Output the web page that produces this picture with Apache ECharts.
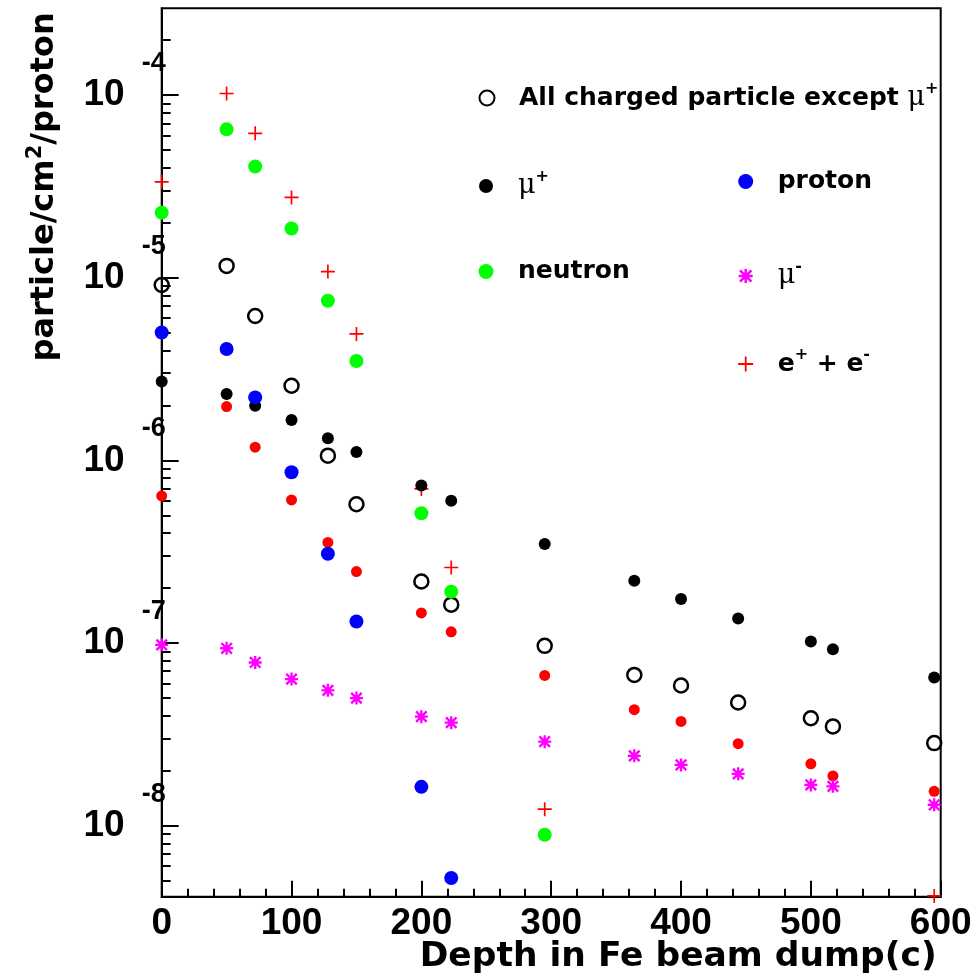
<!DOCTYPE html>
<html><head><meta charset="utf-8">
<script src="https://cdn.jsdelivr.net/npm/echarts@6/dist/echarts.min.js"></script>
<style>html,body{margin:0;padding:0;background:#fff}#c{width:974px;height:980px}</style>
</head><body><div id="c"></div>
<script>
// ---- data ----
const depth = [0, 50, 72, 100, 128, 150, 200, 223, 295, 364, 400, 444, 500, 517, 595];
const allCharged = [9.12e-6, 1.16e-5, 6.17e-6, 2.56e-6, 1.06e-6, 5.75e-7, 2.17e-7, 1.62e-7, 9.64e-8, 6.68e-8, 5.85e-8, 4.72e-8, 3.87e-8, 3.49e-8, 2.83e-8];
const muPlus = [2.70e-6, 2.31e-6, 1.99e-6, 1.66e-6, 1.32e-6, 1.11e-6, 7.28e-7, 6.01e-7, 3.48e-7, 2.19e-7, 1.74e-7, 1.36e-7, 1.02e-7, 9.25e-8, 6.47e-8];
const redDots = [6.38e-7, 1.97e-6, 1.18e-6, 6.07e-7, 3.55e-7, 2.46e-7, 1.46e-7, 1.15e-7, 6.64e-8, 4.31e-8, 3.72e-8, 2.81e-8, 2.18e-8, 1.87e-8, 1.54e-8];
const muMinus = [9.77e-8, 9.35e-8, 7.82e-8, 6.34e-8, 5.50e-8, 4.99e-8, 3.95e-8, 3.66e-8, 2.88e-8, 2.41e-8, 2.15e-8, 1.92e-8, 1.67e-8, 1.64e-8, 1.30e-8];
const protonDepth = [0, 50, 72, 100, 128, 150, 200, 223];
const proton = [5.01e-6, 4.07e-6, 2.21e-6, 8.61e-7, 3.08e-7, 1.31e-7, 1.63e-8, 5.16e-9];
const neutronDepth = [0, 50, 72, 100, 128, 150, 200, 223, 295];
const neutron = [2.27e-5, 6.49e-5, 4.06e-5, 1.86e-5, 7.48e-6, 3.50e-6, 5.13e-7, 1.91e-7, 8.91e-9];
const eeDepth = [0, 50, 72, 100, 128, 150, 200, 223, 295, 595];
const ee = [3.35e-5, 1.02e-4, 6.17e-5, 2.75e-5, 1.08e-5, 4.92e-6, 6.97e-7, 2.59e-7, 1.23e-8, 4.12e-9];

const xTickInterval = 100;
const yMajorTicks = [1e-8, 1e-7, 1e-6, 1e-5, 1e-4];
const yMin = 4.08e-9, yMax = 2.985e-4;

const NAME_ALL = 'All charged particle except \u03bc+';
const NAME_MUP = '\u03bc+';
const NAME_P = 'proton';
const NAME_N = 'neutron';
const NAME_MUM = '\u03bc-';
const NAME_EE = 'e+ + e-';

// minor tick positions of the log axis (2..9 x 10^n)
const yMinorTicks = [];
for (let e = -9; e <= -4; e++) for (let m = 2; m <= 9; m++) {
  const v = m * Math.pow(10, e);
  if (v > yMin && v < yMax) yMinorTicks.push(v);
}

const pairs = (xs, ys) => xs.map((x, i) => [x, ys[i]]);

const plusPath = 'path://M4.4,0H5.6V4.4H10V5.6H5.6V10H4.4V5.6H0V4.4H4.4Z';
const starPath = 'path://M4.1,0H5.9V10H4.1Z M0,4.1H10V5.9H0Z M1.6,0.3L9.7,8.4L8.4,9.7L0.3,1.6Z M8.4,0.3L9.7,1.6L1.6,9.7L0.3,8.4Z';

const legendRichText = {};
legendRichText[NAME_ALL] = '{g| }{t|All charged particle except }{mu|\u03bc}{sup|+}';
legendRichText[NAME_MUP] = '{g| }{mu|\u03bc}{sup|+}';
legendRichText[NAME_P] = '{g| }{t|proton}';
legendRichText[NAME_N] = '{g| }{t|neutron}';
legendRichText[NAME_MUM] = '{g| }{mu|\u03bc}{sup|-}';
legendRichText[NAME_EE] = '{g| }{t|e}{sup|+}{t| + e}{sup|-}';

function legendAt(name, cx, cy, size) {
  return {
    data: [name], left: cx - size / 2, top: cy - 17, itemWidth: size, itemHeight: size,
    padding: 0, selectedMode: false, orient: 'horizontal',
    formatter: n => legendRichText[n],
    textStyle: {
      rich: {
        g: { width: 32 - size / 2 - 5, lineHeight: 34 },
        t: { fontFamily: 'DejaVu Sans', fontWeight: 'bold', fontSize: 25, lineHeight: 34, color: '#000' },
        mu: { fontFamily: 'DejaVu Serif', fontSize: 27, lineHeight: 34, color: '#000' },
        sup: { fontFamily: 'DejaVu Sans', fontWeight: 'bold', fontSize: 16, lineHeight: 16, verticalAlign: 'top', color: '#000' }
      }
    }
  };
}

const chart = echarts.init(document.getElementById('c'), null, { renderer: 'canvas' });
const tickStyle = { color: '#000', width: 2 };
chart.setOption({
  animation: false,
  backgroundColor: '#fff',
  grid: { left: 161.7, right: 33.3, top: 8.3, bottom: 83.3, show: true, borderColor: '#000', borderWidth: 2, outerBoundsMode: 'none', containLabel: false },
  legend: [
    legendAt(NAME_ALL, 486, 98, 15),
    legendAt(NAME_MUP, 486, 186, 14),
    legendAt(NAME_P, 745.7, 186, 15),
    legendAt(NAME_N, 486, 276, 15),
    legendAt(NAME_MUM, 745.7, 276, 14),
    legendAt(NAME_EE, 745.7, 364, 15)
  ],
  xAxis: {
    type: 'value', min: 0, max: 600, interval: xTickInterval,
    axisLine: { lineStyle: { color: '#000', width: 2 } },
    axisTick: { inside: true, length: 16, lineStyle: tickStyle },
    minorTick: { show: true, splitNumber: 5, length: 8, lineStyle: tickStyle },
    splitLine: { show: false }, minorSplitLine: { show: false },
    axisLabel: { margin: 9, fontFamily: 'Liberation Sans', fontWeight: 'bold', fontSize: 37, color: '#000' },
    name: 'Depth in Fe beam dump(c)', nameLocation: 'end', nameGap: -4, nameMoveOverlap: false,
    nameTextStyle: { fontFamily: 'DejaVu Sans', fontWeight: 'bold', fontSize: 34.5, lineHeight: 34, color: '#000', align: 'right', verticalAlign: 'top', padding: [43, 0, 0, 0] }
  },
  yAxis: [{
    type: 'log', min: yMin, max: yMax, position: 'left',
    axisLine: { lineStyle: { color: '#000', width: 2 } },
    axisTick: { inside: true, length: 17, customValues: yMajorTicks, lineStyle: tickStyle },
    splitLine: { show: false },
    axisLabel: {
      customValues: yMajorTicks, margin: -4,
      formatter: v => '{e|' + Math.round(Math.log10(v)) + '}\n{b|10}\n{s| }',
      rich: {
        e: { fontFamily: 'Liberation Sans', fontWeight: 'bold', fontSize: 27, lineHeight: 26, color: '#000' },
        b: { fontFamily: 'Liberation Sans', fontWeight: 'bold', fontSize: 37, lineHeight: 37, color: '#000', padding: [0, 41, 0, 0] },
        s: { fontSize: 26, lineHeight: 26 }
      }
    },
    name: '{t|particle/cm}{sup|2}{t|/proton}', nameLocation: 'end', nameRotate: 90, nameGap: -4, nameMoveOverlap: false,
    nameTextStyle: {
      align: 'right', verticalAlign: 'bottom', padding: [0, 0, 97, 0],
      rich: {
        t: { fontFamily: 'DejaVu Sans', fontWeight: 'bold', fontSize: 32, lineHeight: 40, color: '#000' },
        sup: { fontFamily: 'DejaVu Sans', fontWeight: 'bold', fontSize: 21, lineHeight: 21, verticalAlign: 'top', color: '#000' }
      }
    }
  }, {
    type: 'log', min: yMin, max: yMax, position: 'left', offset: 0,
    axisLine: { show: false }, axisLabel: { show: false }, splitLine: { show: false },
    axisTick: { inside: true, length: 9, customValues: yMinorTicks, lineStyle: tickStyle }
  }],
  series: [
    { name: NAME_EE, type: 'scatter', data: pairs(eeDepth, ee), symbol: plusPath, symbolSize: 14, itemStyle: { color: '#ff0000', opacity: 1 } },
    { name: 'red', type: 'scatter', data: pairs(depth, redDots), symbol: 'circle', symbolSize: 11, itemStyle: { color: '#ff0000', opacity: 1 } },
    { name: NAME_MUP, type: 'scatter', data: pairs(depth, muPlus), symbol: 'circle', symbolSize: 12, itemStyle: { color: '#000', opacity: 1 } },
    { name: NAME_ALL, type: 'scatter', data: pairs(depth, allCharged), symbol: 'circle', symbolSize: 14, itemStyle: { color: 'rgba(255,255,255,0)', borderColor: '#000', borderWidth: 2.5, opacity: 1 } },
    { name: NAME_P, type: 'scatter', data: pairs(protonDepth, proton), symbol: 'circle', symbolSize: 14, itemStyle: { color: '#0000ff', opacity: 1 } },
    { name: NAME_N, type: 'scatter', data: pairs(neutronDepth, neutron), symbol: 'circle', symbolSize: 14, itemStyle: { color: '#00ff00', opacity: 1 } },
    { name: NAME_MUM, type: 'scatter', data: pairs(depth, muMinus), symbol: starPath, symbolSize: 13, itemStyle: { color: '#ff00ff', opacity: 1 } }
  ]
});
</script>
</body></html>
